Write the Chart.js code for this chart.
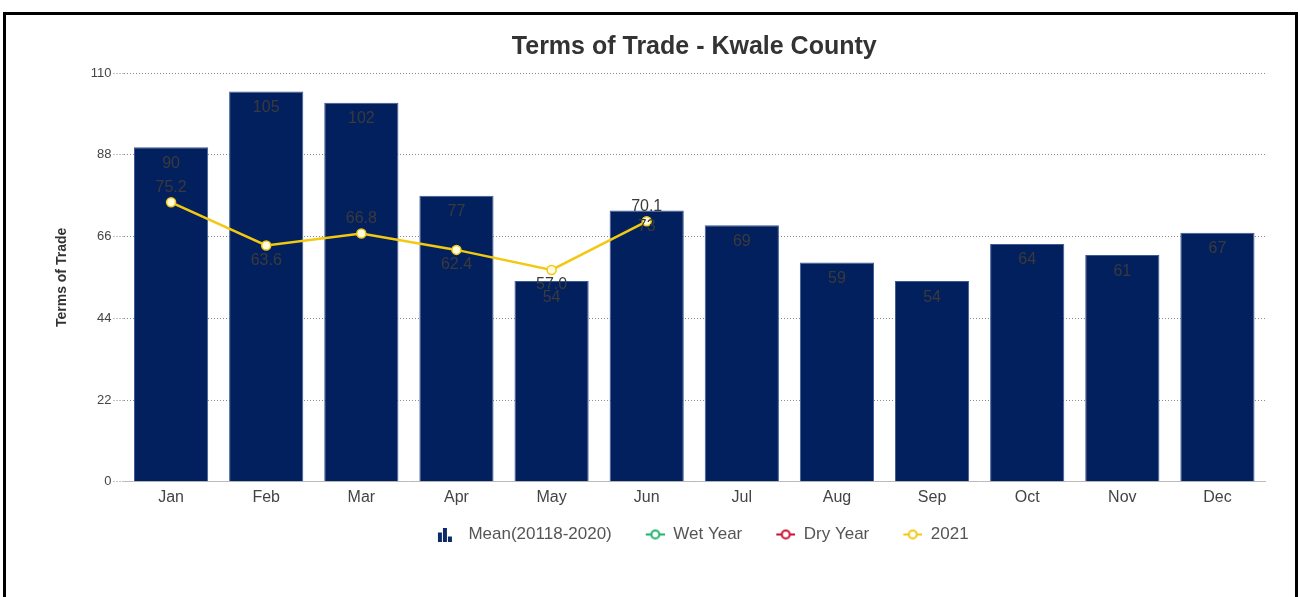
<!DOCTYPE html>
<html>
<head>
<meta charset="utf-8">
<script src="https://cdn.jsdelivr.net/npm/chart.js@4.4.1/dist/chart.umd.min.js"></script>
<style>
  body { margin: 0; background: #fff; }
  #wrap { position: relative; width: 1300px; height: 597px; }
  #frame { position: absolute; left: 3px; top: 12px; width: 1295px; height: 600px;
           border: 3px solid #000; box-sizing: border-box; }
  canvas { position: absolute; left: 0; top: 0; }
</style>
</head>
<body>
<div id="wrap">
  <canvas id="myChart" width="1300" height="597"></canvas>
  <div id="frame"></div>
</div>
<script>
var meses = ['Jan', 'Feb', 'Mar', 'Apr', 'May', 'Jun', 'Jul', 'Aug', 'Sep', 'Oct', 'Nov', 'Dec'];
var media = [90, 105, 102, 77, 54, 73, 69, 59, 54, 64, 61, 67];
var anoUmido = [];
var anoSeco = [];
var ano2021 = [75.2, 63.6, 66.8, 62.4, 57.0, 70.1, null, null, null, null, null, null];
var yTicks = [0, 22, 44, 66, 88, 110];

var fonte = '"Liberation Sans", Arial, sans-serif';
var LARG_ICONE = 40;

// todos os icones com a mesma largura, parte visivel para a direita
function iconeBarra(){
    var c = document.createElement('canvas');
    c.width = LARG_ICONE; c.height = 14;
    var g = c.getContext('2d');
    var x0 = LARG_ICONE - 23;
    g.fillStyle = '#0b2a66';
    g.fillRect(x0 + 1, 5, 4, 9);
    g.fillRect(x0 + 6, 0, 4, 14);
    g.fillRect(x0 + 11, 9, 4, 5);
    return c;
}

function iconeLinha(cor){
    var c = document.createElement('canvas');
    c.width = LARG_ICONE; c.height = 12;
    var g = c.getContext('2d');
    var x0 = LARG_ICONE - 19;
    g.strokeStyle = cor;
    g.lineWidth = 2;
    g.beginPath(); g.moveTo(x0, 6); g.lineTo(x0 + 19, 6); g.stroke();
    g.fillStyle = '#fff';
    g.beginPath(); g.arc(x0 + 9.5, 6, 4, 0, Math.PI * 2); g.fill(); g.stroke();
    return c;
}

var icones = [iconeBarra(), iconeLinha('#1db36b'), iconeLinha('#c8102e'), iconeLinha('#f2c811')];

// rotulos dos valores
var rotulos = {
    id: 'rotulos',
    afterDatasetsDraw: function(chart){
        var ctx = chart.ctx;
        ctx.save();
        ctx.font = '16px ' + fonte;
        ctx.textAlign = 'center';
        ctx.textBaseline = 'middle';
        ctx.fillStyle = '#3a3a3a';
        var barras = chart.getDatasetMeta(0).data;
        for (var i = 0; i < barras.length; i++){
            ctx.fillText(media[i], barras[i].x, barras[i].y + 16);
        }
        var pontos = chart.getDatasetMeta(3).data;
        for (var i = 0; i < pontos.length; i++){
            if (ano2021[i] === null) continue;
            var acima = i === 0 || ano2021[i] >= ano2021[i - 1];
            ctx.fillText(ano2021[i].toFixed(1), pontos[i].x, acima ? pontos[i].y - 15 : pontos[i].y + 15);
        }
        ctx.restore();
    }
};

var ctx = document.getElementById('myChart').getContext('2d');
var chart = new Chart(ctx, {
    type: 'bar',
    data: {
        labels: meses,
        datasets: [{
            type: 'bar',
            label: 'Mean(20118-2020)',
            data: media,
            backgroundColor: '#03205e',
            borderColor: '#3d5a96',
            borderWidth: 1,
            barPercentage: 0.78,
            categoryPercentage: 1,
            order: 2
        }, {
            type: 'line',
            label: 'Wet Year',
            data: anoUmido,
            borderColor: '#1db36b',
            backgroundColor: '#fff',
            order: 1
        }, {
            type: 'line',
            label: 'Dry Year',
            data: anoSeco,
            borderColor: '#c8102e',
            backgroundColor: '#fff',
            order: 1
        }, {
            type: 'line',
            label: '2021',
            data: ano2021,
            borderColor: '#f2c811',
            backgroundColor: '#fffbe3',
            borderWidth: 2.5,
            pointRadius: 4.5,
            pointBorderWidth: 1.5,
            pointBorderColor: '#f2c811',
            tension: 0,
            order: 1
        }]
    },
    options: {
        responsive: false,
        animation: false,
        layout: { padding: { left: 54, right: 35, top: 18, bottom: 44 } },
        plugins: {
            title: {
                display: true,
                fullSize: false,
                text: 'Terms of Trade - Kwale County',
                color: '#333',
                font: { family: fonte, size: 25, weight: 'bold' },
                padding: { top: 14, bottom: 11 }
            },
            legend: {
                position: 'bottom',
                fullSize: false,
                labels: {
                    usePointStyle: true,
                    pointStyleWidth: LARG_ICONE,
                    color: '#555',
                    font: { family: fonte, size: 17 },
                    padding: 13,
                    sort: function(a, b){ return a.datasetIndex - b.datasetIndex; },
                    generateLabels: function(chart){
                        var itens = Chart.defaults.plugins.legend.labels.generateLabels(chart);
                        itens.forEach(function(it){ it.pointStyle = icones[it.datasetIndex]; });
                        return itens;
                    }
                }
            },
            tooltip: { enabled: false }
        },
        scales: {
            x: {
                grid: { display: false, drawTicks: false },
                border: { display: true, color: '#bbb' },
                ticks: { color: '#444', padding: 6, font: { family: fonte, size: 16 } }
            },
            y: {
                min: 0,
                max: 110,
                afterBuildTicks: function(axis){
                    axis.ticks = yTicks.map(function(v){ return { value: v }; });
                },
                grid: { color: '#8a8a8a', lineWidth: 1, tickLength: 10, tickBorderDash: [1, 2] },
                border: { display: false, dash: [1, 2] },
                ticks: { color: '#444', padding: 2, font: { family: fonte, size: 13 } },
                title: {
                    display: true,
                    text: 'Terms of Trade',
                    color: '#333',
                    font: { family: '"Liberation Sans Narrow", "Liberation Sans", sans-serif', size: 14, weight: 'bold' },
                    padding: { top: 0, bottom: 18 }
                }
            }
        }
    },
    plugins: [rotulos]
});
</script>
</body>
</html>
